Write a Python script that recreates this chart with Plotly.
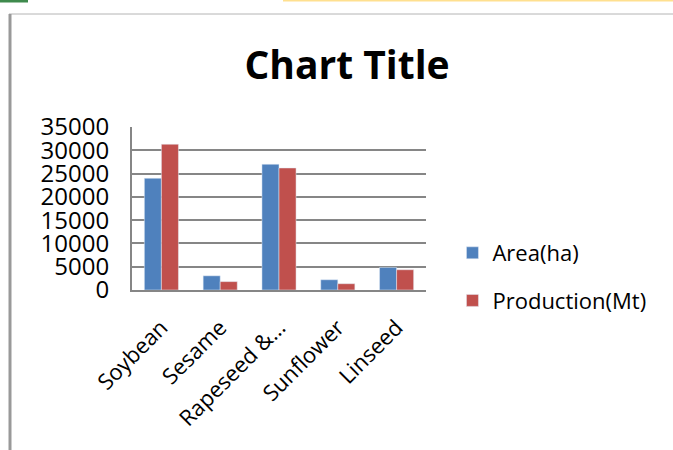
import plotly.graph_objects as go

categories = ["Soybean", "Sesame", "Rapeseed &\u2026", "Sunflower", "Linseed"]
area_ha = [24000, 3050, 27000, 2200, 4850]
production_mt = [31300, 1800, 26200, 1350, 4350]
y_ticks = [0, 5000, 10000, 15000, 20000, 25000, 30000, 35000]

W, H = 673, 450
L, R, T, B = 132, 426, 127, 290

def px(x):
    return (x - L) / (R - L)

def py(y):
    return (B - y) / (B - T)

FONT = "Open Sans"

fig = go.Figure()
fig.add_trace(go.Bar(x=categories, y=area_ha, name="Area(ha)", marker_color="#4F81BD",
                     legendgroup="a"))
fig.add_trace(go.Bar(x=categories, y=production_mt, name="Production(Mt)", marker_color="#C0504D",
                     legendgroup="b"))

shapes = [
    dict(type="line", xref="paper", yref="paper", x0=px(9), x1=px(673), y0=py(14), y1=py(14),
         line=dict(color="#b4b4b4", width=1)),
    dict(type="line", xref="paper", yref="paper", x0=px(10), x1=px(10), y0=py(14), y1=py(450),
         line=dict(color="#999999", width=3)),
    dict(type="rect", xref="paper", yref="paper", x0=px(0), x1=px(28), y0=py(0), y1=py(2.5),
         line=dict(width=0), fillcolor="#3f8a4d"),
    dict(type="rect", xref="paper", yref="paper", x0=px(283), x1=px(673), y0=py(0), y1=py(1.5),
         line=dict(width=0), fillcolor="#ffe08f"),
]

fig.update_layout(
    width=W, height=H,
    margin=dict(l=L, r=W - R, t=T, b=H - B, pad=0),
    paper_bgcolor="white", plot_bgcolor="white",
    barmode="group", bargap=0.42, bargroupgap=0,
    font=dict(family=FONT, color="black"),
    title=dict(text="<b>Chart Title</b>", x=(347) / W, xanchor="center",
               y=1 - 65 / H, yanchor="middle",
               font=dict(family=FONT, size=39, color="black")),
    xaxis=dict(showgrid=False, tickangle=-45, tickfont=dict(size=22, family=FONT),
               showline=True, linecolor="#868686", linewidth=2, ticks="",
               ticklabelstandoff=14, automargin=False),
    yaxis=dict(range=[0, 35000], tickvals=y_ticks, ticktext=[str(v) for v in y_ticks],
               showgrid=True, gridcolor="#868686", gridwidth=2,
               showline=True, linecolor="#868686", linewidth=2, ticks="",
               zeroline=False, ticklabelstandoff=16, automargin=False,
               tickfont=dict(size=24, family=FONT)),
    legend=dict(x=1.09, xanchor="left", y=py(277), yanchor="middle",
                font=dict(size=22, family=FONT), traceorder="grouped",
                tracegroupgap=16, itemwidth=30, bgcolor="rgba(0,0,0,0)"),
    shapes=shapes,
)

fig.write_html("out.html")
